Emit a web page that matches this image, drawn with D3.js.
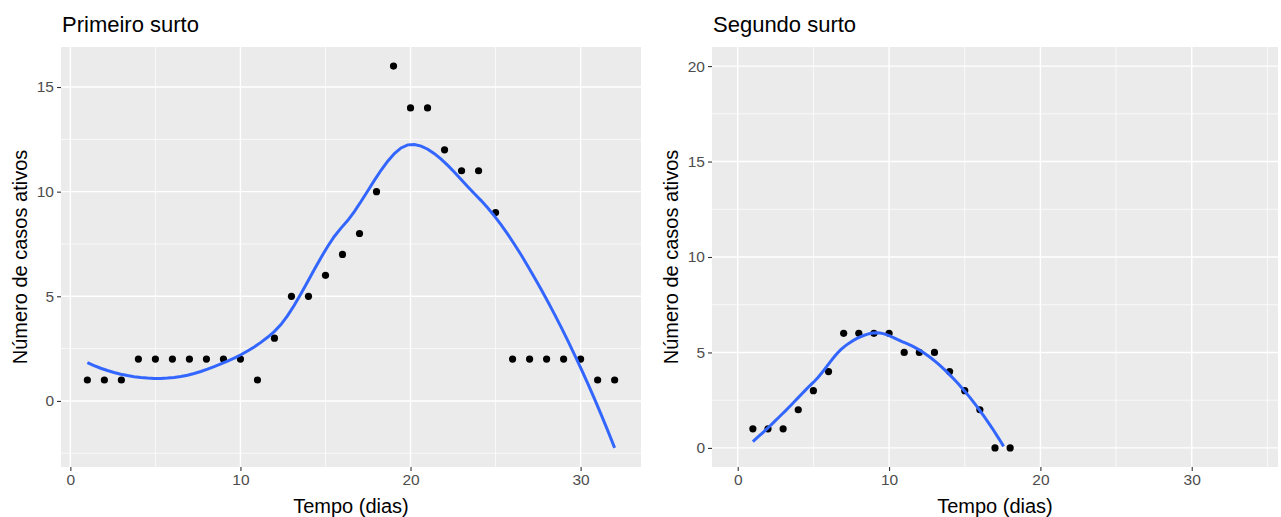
<!DOCTYPE html>
<html>
<head>
<meta charset="utf-8">
<title>Surtos - casos ativos</title>
<script src="https://cdn.jsdelivr.net/npm/d3@7"></script>
<style>
  body { margin: 0; background: #fff; }
  svg { font-family: "Liberation Sans", Arial, sans-serif; }
</style>
</head>
<body>
<svg id="chart" width="1281" height="517"></svg>
<script>
// dados
const dias1  = [1,2,3,4,5,6,7,8,9,10,11,12,13,14,15,16,17,18,19,20,21,22,23,24,25,26,27,28,29,30,31,32];
const casos1 = [1,1,1,2,2,2,2,2,2,2,1,3,5,5,6,7,8,10,16,14,14,12,11,11,9,2,2,2,2,2,1,1];
const dias2  = [1,2,3,4,5,6,7,8,9,10,11,12,13,14,15,16,17,18];
const casos2 = [1,1,1,2,3,4,6,6,6,6,5,5,5,4,3,2,0,0];
const ticksX  = [0,10,20,30];
const ticksY1 = [0,5,10,15];
const ticksY2 = [0,5,10,15,20];
const titulos = ["Primeiro surto", "Segundo surto"];
const tituloX = "Tempo (dias)";
const tituloY = "Número de casos ativos";

const svg = d3.select("#chart");

// ajuste local quadrático num ponto x0 -> [valor, inclinação]
function ajusteLocal(xs, ys, q, x0) {
  const n = xs.length;
  const d = xs.map(x => Math.abs(x - x0));
  const h = d.slice().sort((a, b) => a - b)[q - 1];
  const A = [[0,0,0],[0,0,0],[0,0,0]], b = [0,0,0];
  for (let i = 0; i < n; i++) {
    const u = d[i] / h;
    if (u >= 1) continue;
    const w = Math.pow(1 - u*u*u, 3);
    const t = xs[i] - x0, bs = [1, t, t*t];
    for (let r = 0; r < 3; r++) {
      b[r] += w * bs[r] * ys[i];
      for (let c = 0; c < 3; c++) A[r][c] += w * bs[r] * bs[c];
    }
  }
  for (let k = 0; k < 3; k++) {
    let p = k;
    for (let r = k+1; r < 3; r++) if (Math.abs(A[r][k]) > Math.abs(A[p][k])) p = r;
    [A[k], A[p]] = [A[p], A[k]]; [b[k], b[p]] = [b[p], b[k]];
    for (let r = k+1; r < 3; r++) {
      const f = A[r][k] / A[k][k];
      for (let c = k; c < 3; c++) A[r][c] -= f * A[k][c];
      b[r] -= f * b[k];
    }
  }
  const s = [0,0,0];
  for (let k = 2; k >= 0; k--) {
    let v = b[k];
    for (let c = k+1; c < 3; c++) v -= A[k][c] * s[c];
    s[k] = v / A[k][k];
  }
  return [s[0], s[1]];
}

// loess do R (surface = "interpolate"): árvore kd + interpolação cúbica de Hermite
function loess(xs, ys, span, xEval) {
  const n = xs.length, q = Math.floor(n * span);
  const fc = Math.floor(n * span * 0.2);
  const sx = xs.slice().sort((a, b) => a - b);
  const mu = 0.005 * (sx[n-1] - sx[0]);
  const verts = [sx[0] - mu, sx[n-1] + mu];
  (function split(l, u, lo, hi) {
    if (u - l + 1 <= fc) return;
    let m = Math.floor((l + u) / 2);
    while (m < u && sx[m-1] === sx[m]) m++;
    const v = sx[m-1];
    if (v === lo || v === hi) return;
    verts.push(v);
    split(l, m, lo, v);
    split(m + 1, u, v, hi);
  })(1, n, verts[0], verts[1]);
  verts.sort((a, b) => a - b);
  const vv = verts.map(v => ajusteLocal(xs, ys, q, v));
  return xEval.map(x0 => {
    let j = 0;
    while (j < verts.length - 2 && x0 > verts[j+1]) j++;
    const h = verts[j+1] - verts[j], u = (x0 - verts[j]) / h;
    const [g0, s0] = vv[j], [g1, s1] = vv[j+1];
    const phi0 = (1-u)*(1-u)*(1+2*u), phi1 = u*u*(3-2*u);
    const psi0 = u*(1-u)*(1-u), psi1 = -u*u*(1-u);
    return {x: x0, y: phi0*g0 + phi1*g1 + (psi0*s0 + psi1*s1) * h};
  });
}

function painel(cfg) {
  const {dias, casos, left, right, top, bottom, title, ticksY, xLim, yLim} = cfg;
  const ext = d3.extent(dias);
  const grade = d3.range(80).map(i => ext[0] + i * (ext[1] - ext[0]) / 79);
  let ajuste = loess(dias, casos, 0.75, grade);

  // limites com expansão de 5% (ggplot)
  let xd = xLim || ext;
  let yd;
  if (yLim) {
    yd = yLim;
    ajuste = ajuste.filter(p => p.y >= yLim[0] && p.y <= yLim[1]);
  } else {
    yd = d3.extent(casos.concat(ajuste.map(p => p.y)));
  }
  const ex = (xd[1] - xd[0]) * 0.05, ey = (yd[1] - yd[0]) * 0.05;
  const x = d3.scaleLinear().domain([xd[0] - ex, xd[1] + ex]).range([left, right]);
  const y = d3.scaleLinear().domain([yd[0] - ey, yd[1] + ey]).range([bottom, top]);

  const g = svg.append("g");
  g.append("rect").attr("x", left).attr("y", top)
    .attr("width", right - left).attr("height", bottom - top).attr("fill", "#EBEBEB");

  const minorX = ticksX.map(t => t + 5)
    .filter(t => t > x.domain()[0] && t < x.domain()[1]);
  const minorY = [ticksY[0] - 2.5].concat(ticksY.map(t => t + 2.5))
    .filter(t => t > y.domain()[0] && t < y.domain()[1]);

  g.selectAll(".mx").data(minorX).join("line")
    .attr("x1", d => x(d)).attr("x2", d => x(d)).attr("y1", top).attr("y2", bottom)
    .attr("stroke", "#fff").attr("stroke-width", 0.7);
  g.selectAll(".my").data(minorY).join("line")
    .attr("y1", d => y(d)).attr("y2", d => y(d)).attr("x1", left).attr("x2", right)
    .attr("stroke", "#fff").attr("stroke-width", 0.7);
  g.selectAll(".gx").data(ticksX).join("line")
    .attr("x1", d => x(d)).attr("x2", d => x(d)).attr("y1", top).attr("y2", bottom)
    .attr("stroke", "#fff").attr("stroke-width", 1.4);
  g.selectAll(".gy").data(ticksY).join("line")
    .attr("y1", d => y(d)).attr("y2", d => y(d)).attr("x1", left).attr("x2", right)
    .attr("stroke", "#fff").attr("stroke-width", 1.4);

  // eixos
  const ax = g.append("g").attr("transform", `translate(0,${bottom})`)
    .call(d3.axisBottom(x).tickValues(ticksX).tickSize(4).tickPadding(3).tickFormat(d3.format("d")));
  const ay = g.append("g").attr("transform", `translate(${left},0)`)
    .call(d3.axisLeft(y).tickValues(ticksY).tickSize(4).tickPadding(3).tickFormat(d3.format("d")));
  [ax, ay].forEach(a => {
    a.select(".domain").remove();
    a.selectAll("line").attr("stroke", "#333333").attr("stroke-width", 1.1);
    a.selectAll("text").attr("fill", "#4D4D4D").style("font-size", "15.5px");
  });

  // pontos e curva
  const clipId = "clip" + left;
  svg.append("clipPath").attr("id", clipId).append("rect")
    .attr("x", left).attr("y", top).attr("width", right - left).attr("height", bottom - top);
  g.append("g").attr("clip-path", `url(#${clipId})`)
    .selectAll("circle").data(dias.map((d, i) => ({x: d, y: casos[i]}))).join("circle")
    .attr("cx", d => x(d.x)).attr("cy", d => y(d.y)).attr("r", 3.6).attr("fill", "#000");
  g.append("path").datum(ajuste).attr("clip-path", `url(#${clipId})`)
    .attr("d", d3.line().x(d => x(d.x)).y(d => y(d.y)))
    .attr("fill", "none").attr("stroke", "#3366FF").attr("stroke-width", 3);

  // títulos
  g.append("text").attr("x", left + 1).attr("y", 32).text(title)
    .style("font-size", "22px").attr("fill", "#000");
  g.append("text").attr("x", (left + right) / 2).attr("y", 513).attr("text-anchor", "middle")
    .text(tituloX).style("font-size", "20px").attr("fill", "#000");
  g.append("text").attr("transform", `translate(${left - 34},${(top + bottom) / 2}) rotate(-90)`)
    .attr("text-anchor", "middle").text(tituloY).style("font-size", "20px").attr("fill", "#000");
}

painel({dias: dias1, casos: casos1, left: 61, right: 641, top: 47, bottom: 467,
        title: titulos[0], ticksY: ticksY1});
painel({dias: dias2, casos: casos2, left: 712, right: 1278, top: 47, bottom: 467,
        title: titulos[1], ticksY: ticksY2, xLim: [0, 34], yLim: [0, 20]});
</script>
</body>
</html>
